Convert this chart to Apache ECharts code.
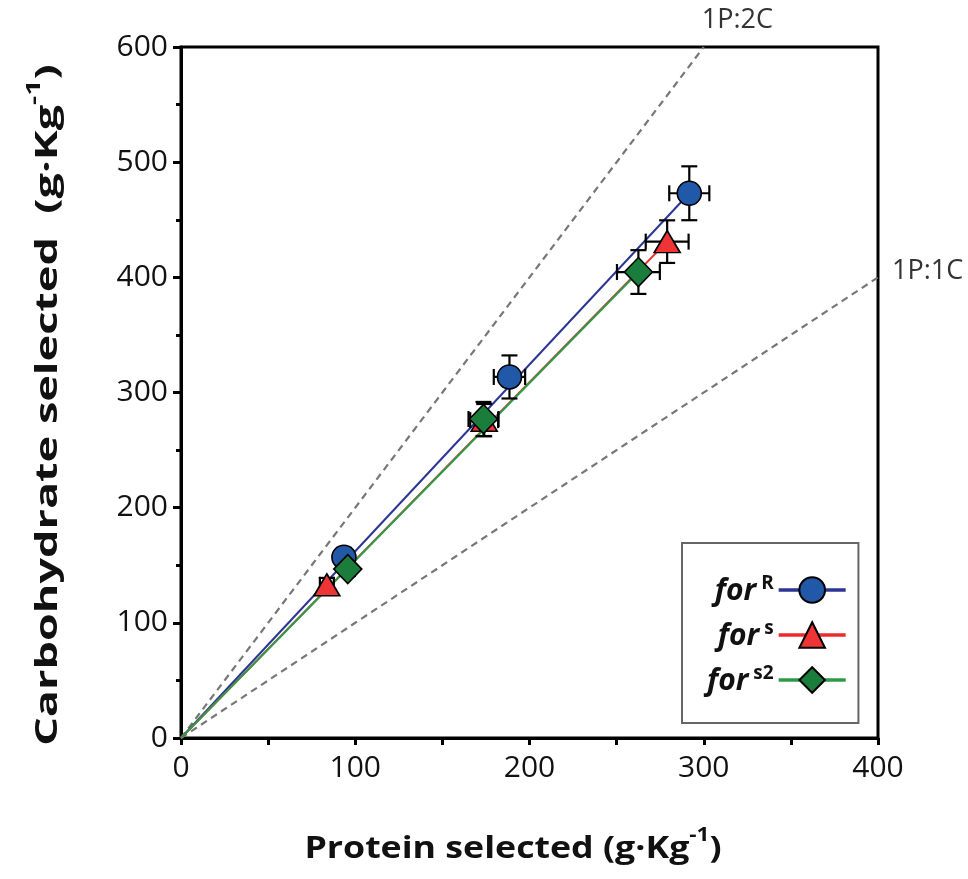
<!DOCTYPE html>
<html><head><meta charset="utf-8">
<script src="https://cdn.jsdelivr.net/npm/echarts@6/dist/echarts.min.js"></script>
<style>html,body{margin:0;padding:0;background:#fff}#c{width:968px;height:879px}</style>
</head><body><div id="c"></div>
<script>
// ---- data ----
const seriesNames = ['forR', 'forS', 'forS2'];
const legendSup = ['R', 's', 's2'];
const rX = [93.5, 188.5, 291.7];
const rY = [157, 313.5, 473];
const rXErr = [5, 9, 11.5];
const rYErr = [8, 18.7, 23.4];
const sX = [83.7, 174, 279];
const sY = [133, 276, 431];
const sXErr = [4, 8, 12.3];
const sYErr = [6, 14, 18.5];
const s2X = [95.7, 173.6, 262.5];
const s2Y = [146.7, 277, 404.6];
const s2XErr = [4, 8.6, 12.3];
const s2YErr = [6, 14.8, 19];
const origin = [0, 0];
const ratio2C = [[0, 0], [300, 600]];
const ratio1C = [[0, 0], [400, 400]];
const ratioNames = ['1P:2C', '1P:1C'];
const xTicks = [0, 100, 200, 300, 400];
const yTicks = [0, 100, 200, 300, 400, 500, 600];
const xTitle = '{t|Protein selected (g·Kg}{s|-1}{t|)}';
const yTitle = '{t|Carbohydrate selected  (g·Kg}{s|-1}{t|)}';

// ---- styles ----
const fills = ['#2158a8', '#ee3434', '#1b7d3c'];
const lineColors = ['#2b3593', '#ee2a2a', '#2e9b48'];
const symbols = ['circle', 'triangle', 'diamond'];
const symbolSizes = [[24, 24], [26, 22], [28, 29]];

const groups = [
  {x: rX, y: rY, xe: rXErr, ye: rYErr},
  {x: sX, y: sY, xe: sXErr, ye: sYErr},
  {x: s2X, y: s2Y, xe: s2XErr, ye: s2YErr}
];

const series = [];
[ratio2C, ratio1C].forEach((d, i) => {
  series.push({
    type: 'line', name: ratioNames[i], data: d, symbol: 'none', silent: true, z: 1,
    lineStyle: {color: '#777', width: 2.2, type: [7, 5]},
    endLabel: {
      show: true, formatter: ratioNames[i], color: '#333', fontSize: 27, fontFamily: 'Open Sans',
      offset: i === 0 ? [-10, -27] : [6, -6]
    }
  });
});
groups.forEach((g, i) => {
  const n = g.x.length - 1;
  series.push({
    type: 'line', name: 'fit' + i, data: [origin, [g.x[n], g.y[n]]], symbol: 'none', silent: true, z: 2,
    lineStyle: {color: lineColors[i], width: 2}
  });
});
groups.forEach((g, i) => {
  series.push({
    type: 'custom', name: 'err' + i, z: 3, silent: true,
    data: g.x.map((v, k) => [v, g.y[k], g.xe[k], g.ye[k]]),
    renderItem: function (params, api) {
      const x = api.value(0), y = api.value(1), xe = api.value(2), ye = api.value(3);
      const top = api.coord([x, y + ye]), bot = api.coord([x, y - ye]);
      const lft = api.coord([x - xe, y]), rgt = api.coord([x + xe, y]);
      const c = 8;
      const st = {stroke: '#000', lineWidth: 2.2};
      const L = (x1, y1, x2, y2) => ({type: 'line', shape: {x1, y1, x2, y2}, style: st});
      return {type: 'group', children: [
        L(top[0], top[1], bot[0], bot[1]),
        L(top[0] - c, top[1], top[0] + c, top[1]),
        L(bot[0] - c, bot[1], bot[0] + c, bot[1]),
        L(lft[0], lft[1], rgt[0], rgt[1]),
        L(lft[0], lft[1] - c, lft[0], lft[1] + c),
        L(rgt[0], rgt[1] - c, rgt[0], rgt[1] + c)
      ]};
    }
  });
});
groups.forEach((g, i) => {
  series.push({
    type: 'line', name: seriesNames[i], z: 4,
    data: g.x.map((v, k) => [v, g.y[k]]),
    symbol: symbols[i], symbolSize: symbolSizes[i], showSymbol: true,
    lineStyle: {width: 0, color: lineColors[i]},
    itemStyle: {color: fills[i], borderColor: '#000', borderWidth: 1.6}
  });
});

const titleRich = {
  t: {fontSize: 30, fontWeight: 'bold', fontFamily: 'Open Sans', fill: '#111', lineHeight: 38, verticalAlign: 'bottom'},
  s: {fontSize: 19, fontWeight: 'bold', fontFamily: 'Open Sans', fill: '#111', lineHeight: 20, verticalAlign: 'top'}
};

const chart = echarts.init(document.getElementById('c'), null, {renderer: 'canvas'});
chart.setOption({
  animation: false,
  backgroundColor: '#fff',
  grid: {left: 181, right: 90, top: 47, bottom: 141, show: true, borderColor: '#000', borderWidth: 3},
  xAxis: {
    type: 'value', min: 0, max: 400, interval: 50,
    axisLine: {show: true, lineStyle: {color: '#000', width: 3}},
    axisTick: {show: true, length: 7, lineStyle: {color: '#000', width: 3}},
    splitLine: {show: false},
    axisLabel: {
      formatter: v => (xTicks.indexOf(v) >= 0 ? String(v) : ''),
      fontSize: 30, fontFamily: 'Open Sans', color: '#111', margin: 15
    }
  },
  yAxis: {
    type: 'value', min: 0, max: 600, interval: 100,
    axisLine: {show: true, lineStyle: {color: '#000', width: 3}},
    axisTick: {show: true, length: 8, lineStyle: {color: '#000', width: 3}},
    minorTick: {show: true, splitNumber: 2, length: 5, lineStyle: {color: '#000', width: 3}},
    splitLine: {show: false},
    axisLabel: {
      formatter: v => (yTicks.indexOf(v) >= 0 ? String(v) : ''),
      fontSize: 30, fontFamily: 'Open Sans', color: '#111', margin: 13
    }
  },
  graphic: [
    {type: 'text', x: 513, y: 845, scaleX: 1.19, silent: true,
     style: {text: xTitle, rich: titleRich, align: 'center', verticalAlign: 'middle'}},
    {type: 'text', x: 44, y: 405, rotation: Math.PI / 2, scaleX: 1.5, silent: true,
     style: {text: yTitle, rich: titleRich, align: 'center', verticalAlign: 'middle'}}
  ],
  legend: {
    data: seriesNames,
    orient: 'vertical', left: 682, top: 543,
    padding: [31, 11, 27, 25],
    itemWidth: 67, itemHeight: 32, itemGap: 13,
    align: 'right',
    borderColor: '#666', borderWidth: 2,
    lineStyle: {width: 3.5},
    formatter: name => '{b|for}{s|' + legendSup[seriesNames.indexOf(name)] + '}',
    textStyle: {
      width: 80, align: 'right',
      rich: {
        b: {fontSize: 30, fontWeight: 'bold', fontStyle: 'italic', fontFamily: 'Open Sans', color: '#111', lineHeight: 32, verticalAlign: 'bottom'},
        s: {fontSize: 19, fontWeight: 'bold', fontFamily: 'Open Sans', color: '#111', lineHeight: 20, verticalAlign: 'top', padding: [0, 0, 0, 5]}
      }
    }
  },
  series: series
});
</script>
</body></html>
